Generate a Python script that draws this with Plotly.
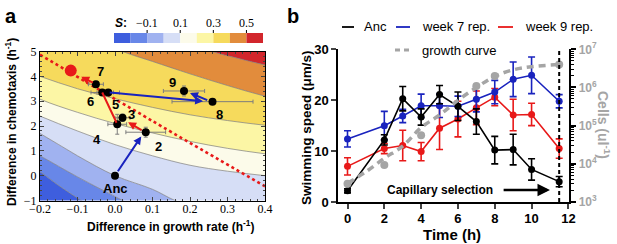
import plotly.graph_objects as go

W, H = 617, 244


def xp(px):
    return px / W


def yp(py):
    return 1 - py / H


# ======================= Panel a data =======================
strain_names = ["Anc", "2", "3", "4", "5", "6", "7", "8", "9"]
growth_diff = [0.0, 0.082, 0.02, 0.006, -0.018, -0.034, -0.051, 0.26, 0.184]
chemo_diff = [0.0, 1.75, 2.33, 2.07, 3.35, 3.35, 3.68, 2.98, 3.41]
growth_err = [0.0, 0.053, 0.02, 0.025, 0.03, 0.03, 0.02, 0.108, 0.055]
chemo_err = [0.12, 0.2, 0.15, 0.4, 0.1, 0.1, 0.12, 0.05, 0.2]

optimum_growth = [-0.118]
optimum_chemo = [4.23]

separatrix_growth = [-0.2, 0.1, 0.4]
separatrix_chemo = [4.87, 2.2, -0.43]

# S contour boundaries (growth, chemotaxis)
bottom_g, bottom_c = [-0.3, 0.5], [-6.0, -6.0]
s_m02_g = [-0.3, -0.2, -0.15, -0.09, -0.03, 0.5]
s_m02_c = [1.0, 0.15, -0.4, -1.0, -1.5, -2.0]
s_m01_g = [-0.3, -0.2, -0.1, 0.02, 0.08, 0.5]
s_m01_c = [1.6, 0.8, -0.05, -1.0, -1.5, -2.0]
s_000_g = [-0.3, -0.2, -0.1, 0.0, 0.1, 0.16, 0.25, 0.5]
s_000_c = [2.5, 1.7, 0.8, 0.0, -0.55, -1.0, -1.5, -2.0]
s_p01_g = [-0.3, -0.2, -0.1, 0.0, 0.1, 0.2, 0.3, 0.4, 0.5]
s_p01_c = [3.1, 2.4, 1.8, 1.25, 0.8, 0.42, 0.18, 0.0, -0.15]
s_p02_g = [-0.3, -0.2, -0.1, 0.0, 0.1, 0.2, 0.3, 0.4, 0.5]
s_p02_c = [3.8, 3.08, 2.55, 2.1, 1.72, 1.38, 1.1, 0.88, 0.7]
s_p03_g = [-0.3, -0.2, -0.1, 0.0, 0.1, 0.2, 0.3, 0.4, 0.5]
s_p03_c = [4.55, 4.0, 3.5, 3.1, 2.75, 2.45, 2.22, 2.03, 1.88]
s_p04_g = [-0.3, -0.1, 0.02, 0.1, 0.2, 0.3, 0.4, 0.5]
s_p04_c = [7.0, 5.75, 5.0, 4.6, 4.1, 3.63, 3.2, 2.85]
s_p05_g = [-0.3, 0.1, 0.2, 0.26, 0.33, 0.4, 0.5]
s_p05_c = [8.5, 6.3, 5.4, 5.0, 4.72, 4.46, 4.15]
top_g, top_c = [-0.3, 0.5], [9.5, 9.5]

# trajectory arrows (from -> to)
arrow_from_g = [0.005, 0.075, 0.006, -0.055, -0.018, 0.25]
arrow_from_c = [0.12, 1.8, 2.07, 3.72, 3.35, 3.02]
arrow_to_g = [0.07, 0.035, -0.034, -0.09, 0.235, 0.2]
arrow_to_c = [1.58, 2.15, 3.35, 3.98, 3.0, 3.33]
arrow_kind = ["blue", "red", "red", "red", "blue", "blue"]
arrow_head = [2, 2, 0, 2, 2, 2]

a_xtick_vals = [-0.2, -0.1, 0.0, 0.1, 0.2, 0.3, 0.4]
a_xtick_text = ["\u22120.2", "\u22120.1", "0.0", "0.1", "0.2", "0.3", "0.4"]
a_ytick_vals = [-1, 0, 1, 2, 3, 4, 5]
a_ytick_text = ["\u22121", "0", "1", "2", "3", "4", "5"]
cbar_tick_text = ["\u22120.1", "0.1", "0.3", "0.5"]

# ======================= Panel b data =======================
times = [0, 2, 3, 4, 5, 6, 7, 8, 9, 10, 11.5]
speed_anc = [2.2, 12.2, 20.3, 16.7, 21.1, 18.8, 15.8, 10.2, 10.3, 6.4, 4.0]
err_anc = [0.4, 1.0, 2.4, 1.6, 1.8, 2.8, 2.5, 2.7, 3.0, 2.1, 1.0]
speed_w7 = [12.4, 15.0, 16.9, 18.9, 18.9, 18.8, 20.2, 21.6, 24.1, 24.9, 19.8]
err_w7 = [1.6, 2.8, 1.3, 2.3, 2.3, 2.0, 2.5, 2.3, 3.4, 3.6, 1.3]
speed_w9 = [7.0, 10.5, 11.1, 9.9, 14.5, 16.3, 18.5, 20.6, 17.1, 17.2, 10.5]
err_w9 = [1.7, 1.0, 3.0, 1.8, 4.2, 3.5, 3.3, 1.7, 3.1, 2.2, 1.9]

growth_times = [0, 2, 4, 7, 8, 11.5]
growth_cells = [3.0e3, 9.3e3, 5.6e4, 1.1e6, 2.0e6, 4.0e6]
curve_times = [0, 1, 2, 3, 4, 5, 6, 7, 8, 9, 10, 11.5]
curve_cells = [3.1e3, 6.2e3, 1.4e4, 2.9e4, 8.9e4, 1.9e5, 4.6e5, 1.0e6, 1.95e6, 2.9e6, 3.5e6, 4.0e6]

selection_time = 11.5

b_xtick_vals = [0, 2, 4, 6, 8, 10, 12]
b_ytick_vals = [0, 10, 20, 30]
cells_tick_vals = [1e3, 1e4, 1e5, 1e6, 1e7]
cells_tick_text = ["10<sup>3</sup>", "10<sup>4</sup>", "10<sup>5</sup>", "10<sup>6</sup>", "10<sup>7</sup>"]

# ======================= styles =======================
band_colors = [
    "rgb(62,94,222)", "rgb(104,135,232)", "rgb(160,178,240)", "rgb(214,222,246)",
    "rgb(252,251,234)", "rgb(252,246,165)", "rgb(246,218,92)", "rgb(226,140,60)",
    "rgb(210,38,44)",
]
BLUE = "rgb(25,35,190)"
RED = "rgb(232,25,25)"
GREY = "rgb(165,165,165)"
SANS = "Liberation Sans, Arial, sans-serif"
SERIF = "Liberation Serif, Times New Roman, serif"

fig = go.Figure()

# ---- panel a: filled S map
boundaries = [
    (bottom_g, bottom_c), (s_m02_g, s_m02_c), (s_m01_g, s_m01_c), (s_000_g, s_000_c),
    (s_p01_g, s_p01_c), (s_p02_g, s_p02_c), (s_p03_g, s_p03_c), (s_p04_g, s_p04_c),
    (s_p05_g, s_p05_c), (top_g, top_c),
]
for i, (bg, bc) in enumerate(boundaries):
    fig.add_trace(go.Scatter(
        x=bg, y=bc, xaxis="x", yaxis="y", mode="lines",
        line=dict(width=0, shape="spline", smoothing=1.0),
        fill="tonexty" if i > 0 else "none",
        fillcolor=band_colors[i - 1] if i > 0 else None,
        hoverinfo="skip", showlegend=False,
    ))
for bg, bc in boundaries[1:-1]:
    fig.add_trace(go.Scatter(
        x=bg, y=bc, xaxis="x", yaxis="y", mode="lines",
        line=dict(width=0.8, color="rgba(120,120,120,0.85)", shape="spline", smoothing=1.0),
        hoverinfo="skip", showlegend=False,
    ))

# separatrix
fig.add_trace(go.Scatter(
    x=separatrix_growth, y=separatrix_chemo, xaxis="x", yaxis="y", mode="lines",
    line=dict(color=RED, width=2.6, dash="dot", shape="spline"), showlegend=False,
))
# optimum
fig.add_trace(go.Scatter(
    x=optimum_growth, y=optimum_chemo, xaxis="x", yaxis="y", mode="markers",
    marker=dict(color=RED, size=12), showlegend=False,
))
# strains
fig.add_trace(go.Scatter(
    x=growth_diff, y=chemo_diff, xaxis="x", yaxis="y", mode="markers",
    marker=dict(color="black", size=8),
    error_x=dict(type="data", array=growth_err, color="rgb(125,125,125)", thickness=1, width=2),
    error_y=dict(type="data", array=chemo_err, color="rgb(125,125,125)", thickness=1, width=2),
    showlegend=False,
))

# ---- panel b
fig.add_trace(go.Scatter(
    x=curve_times, y=curve_cells, xaxis="x2", yaxis="y3", mode="lines",
    line=dict(color=GREY, width=3.5, dash="7px,5px", shape="spline"), showlegend=False,
))
fig.add_trace(go.Scatter(
    x=growth_times, y=growth_cells, xaxis="x2", yaxis="y3", mode="markers",
    marker=dict(color=GREY, size=8), showlegend=False,
))
for ys, es, col in [(speed_w9, err_w9, RED), (speed_w7, err_w7, BLUE), (speed_anc, err_anc, "black")]:
    fig.add_trace(go.Scatter(
        x=times, y=ys, xaxis="x2", yaxis="y2", mode="lines+markers",
        line=dict(color=col, width=1.6), marker=dict(color=col, size=7),
        error_y=dict(type="data", array=es, color=col, thickness=1.6, width=3.5),
        showlegend=False,
    ))

annotations = []
shapes = []


def ptext(px, py, text, size, color="black", family=SANS, angle=0, xanchor="center"):
    return dict(x=xp(px), y=yp(py), xref="paper", yref="paper", text=text, showarrow=False,
                xanchor=xanchor, yanchor="middle", textangle=angle,
                font=dict(family=family, size=size, color=color))


# trajectory arrows
for g0, c0, g1, c1, kind, head in zip(arrow_from_g, arrow_from_c, arrow_to_g, arrow_to_c, arrow_kind, arrow_head):
    annotations.append(dict(
        x=g1, y=c1, ax=g0, ay=c0, xref="x", yref="y", axref="x", ayref="y",
        showarrow=True, arrowhead=head, arrowsize=0.8, arrowwidth=2,
        arrowcolor=BLUE if kind == "blue" else RED, text="", standoff=0, startstandoff=0,
    ))

# strain labels (pixel offsets from points)
label_shift = {
    "Anc": (0, -13), "2": (13, -14), "3": (9, 3), "4": (-20, -15), "5": (7, -12),
    "6": (-12, -9), "7": (5, 13), "8": (7, -13), "9": (-12, 8),
}
for name, g, c in zip(strain_names, growth_diff, chemo_diff):
    dx, dy = label_shift[name]
    annotations.append(dict(
        x=g, y=c, xref="x", yref="y", text="<b>%s</b>" % name, showarrow=False,
        xanchor="center", yanchor="middle",
        xshift=dx, yshift=dy, font=dict(family=SANS, size=13, color="black"),
    ))

# panel a colour key
cb_x0, cb_w = 114.0, 149.0 / 9
for k in range(9):
    shapes.append(dict(type="rect", xref="paper", yref="paper",
                       x0=xp(cb_x0 + k * cb_w), x1=xp(cb_x0 + (k + 1) * cb_w),
                       y0=yp(43), y1=yp(33), fillcolor=band_colors[k], line=dict(width=0)))
for j, txt in enumerate(cbar_tick_text):
    bx = cb_x0 + (2 * j + 2) * cb_w
    shapes.append(dict(type="line", xref="paper", yref="paper", x0=xp(bx), x1=xp(bx),
                       y0=yp(33), y1=yp(30), line=dict(color="black", width=1)))
    annotations.append(ptext(bx, 23, txt, 12, family=SERIF))
annotations.append(ptext(121, 23, "<b><i>S</i>:</b>", 12))

# panel labels and axis titles
annotations += [
    ptext(11, 16, "<b>a</b>", 20),
    ptext(293, 16, "<b>b</b>", 20),
    ptext(170, 226, "<b>Difference in growth rate (h<sup>-1</sup>)</b>", 12),
    ptext(11, 122, "<b>Difference in chemotaxis (h<sup>-1</sup>)</b>", 12, angle=-90),
    ptext(452, 234, "<b>Time (h)</b>", 15),
    ptext(306, 128, "<b>Swimming speed (\u03bcm/s)</b>", 13.5, angle=-90),
    ptext(604, 125, "<b>Cells (ul<sup>-1</sup>)</b>", 14, color=GREY, angle=90),
    ptext(440, 190, "<b>Capillary selection</b>", 12),
    dict(x=11.0, y=2.35, ax=8.4, ay=2.35, xref="x2", yref="y2", axref="x2", ayref="y2",
         showarrow=True, arrowhead=2, arrowsize=1.0, arrowwidth=2.5, arrowcolor="black", text=""),
]

# panel b legend
legend_items = [
    (342, 354, 27, "black", "solid", "Anc", 362),
    (396, 410, 27, BLUE, "solid", "week 7 rep.", 420),
    (498, 513, 27, RED, "solid", "week 9 rep.", 523),
    (395, 411, 50, GREY, "dash", "growth curve", 420),
]
for x0, x1, y, col, dash, txt, tx in legend_items:
    shapes.append(dict(type="line", xref="paper", yref="paper", x0=xp(x0), x1=xp(x1), y0=yp(y), y1=yp(y),
                       line=dict(color=col, width=3 if dash == "dash" else 1.8,
                                 dash="5px,4px" if dash == "dash" else "solid")))
    annotations.append(ptext(tx, y, txt, 13, xanchor="left"))

# selection marker line
shapes.append(dict(type="line", xref="x2", yref="y2 domain", x0=selection_time, x1=selection_time,
                   y0=0, y1=1, line=dict(color="black", width=2, dash="4px,3px")))

minor_cells = [m * 10 ** e for e in range(3, 7) for m in range(2, 10)]

fig.update_layout(
    width=W, height=H, margin=dict(l=0, r=0, t=0, b=0, autoexpand=False),
    paper_bgcolor="white", plot_bgcolor="white", showlegend=False,
    font=dict(family=SANS, color="black"),
    xaxis=dict(domain=[xp(40), xp(265)], range=[-0.2, 0.4], anchor="y", automargin=False,
               tickvals=a_xtick_vals, ticktext=a_xtick_text, ticks="inside", ticklen=4,
               ticklabelstandoff=-3,
               minor=dict(ticks="inside", ticklen=2, dtick=0.02, tick0=0),
               showline=True, mirror="allticks", linecolor="black", linewidth=1,
               showgrid=False, zeroline=False,
               tickfont=dict(family=SERIF, size=12, color="black")),
    yaxis=dict(domain=[yp(200.5), yp(51.5)], range=[-1, 5], anchor="x", automargin=False,
               tickvals=a_ytick_vals, ticktext=a_ytick_text, ticks="inside", ticklen=4,
               minor=dict(ticks="inside", ticklen=2, dtick=0.2, tick0=0),
               showline=True, mirror="allticks", linecolor="black", linewidth=1,
               showgrid=False, zeroline=False,
               tickfont=dict(family=SERIF, size=12, color="black")),
    xaxis2=dict(domain=[xp(338.3), xp(569.3)], range=[-0.5, 12.05], anchor="y2", automargin=False,
                tickvals=b_xtick_vals, ticks="outside", ticklen=5, tickwidth=2,
                ticklabelstandoff=-2,
                showline=True, linecolor="black", linewidth=2, showgrid=False, zeroline=False,
                tickfont=dict(family=SANS, size=13, color="black", weight="bold")),
    yaxis2=dict(domain=[yp(202), yp(49.3)], range=[0, 30], anchor="x2", automargin=False,
                tickvals=b_ytick_vals, ticks="outside", ticklen=5, tickwidth=2,
                showline=True, linecolor="black", linewidth=2, showgrid=False, zeroline=False,
                tickfont=dict(family=SANS, size=13, color="black", weight="bold")),
    yaxis3=dict(type="log", range=[3, 7], overlaying="y2", side="right", anchor="x2", automargin=False,
                tickvals=cells_tick_vals, ticktext=cells_tick_text, ticks="outside",
                ticklen=5, tickwidth=2, tickcolor="black",
                minor=dict(ticks="outside", ticklen=3, tickwidth=1, tickvals=minor_cells, tickcolor="black"),
                showline=True, linecolor="black", linewidth=2, showgrid=False, zeroline=False,
                tickfont=dict(family=SANS, size=12, color=GREY, weight="bold")),
    annotations=annotations, shapes=shapes,
)

fig.write_html(
    "out.html",
    config={"displayModeBar": False},
    post_script="document.body.style.margin='0';document.body.style.overflow='hidden';",
)
